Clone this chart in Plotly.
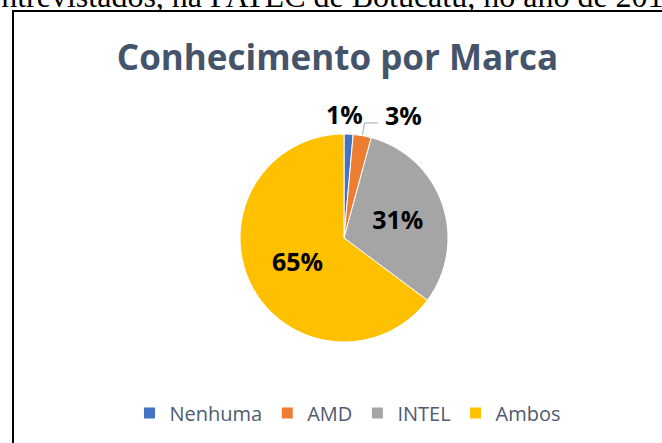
import math
import plotly.graph_objects as go

categories = ["Nenhuma", "AMD", "INTEL", "Ambos"]
counts = [1, 2, 22, 46]
colors = ["#4472C4", "#ED7D31", "#A5A5A5", "#FFC000"]
inside_labels = [False, False, True, True]
title_text = "Conhecimento por Marca"
caption_text = "entrevistados, na FATEC de Botucatu, no ano de 2018"

W, H = 662, 443
cx, cy, r = 344, 238, 104

total = sum(counts)
fracs = [c / total for c in counts]
pct_text = [f"{round(f * 100)}%" for f in fracs]

fig = go.Figure(go.Pie(
    labels=categories,
    values=counts,
    sort=False,
    direction="clockwise",
    rotation=0,
    marker=dict(colors=colors, line=dict(color="white", width=1)),
    text=[t if ins else "" for t, ins in zip(pct_text, inside_labels)],
    texttemplate="%{text}",
    textposition="inside",
    textfont=dict(family="Open Sans", size=25, color="black", weight="bold"),
    insidetextorientation="horizontal",
    hoverinfo="label+percent",
    domain=dict(x=[(cx - r) / W, (cx + r) / W], y=[1 - (cy + r) / H, 1 - (cy - r) / H]),
))

# outside labels for the small slices, placed from each slice's mid-angle
def pt(angle_deg, rho):
    a = math.radians(angle_deg)
    return cx + rho * math.sin(a), cy - rho * math.cos(a)

cum = 0.0
mids = []
for f in fracs:
    mids.append((cum + f / 2) * 360)
    cum += f

# Nenhuma: label just above its slice
lx, ly = pt(mids[0], r + 20)
fig.add_annotation(text=pct_text[0], xref="paper", yref="paper",
                   x=lx / W, y=1 - ly / H, xanchor="center", yanchor="middle",
                   xshift=-5, showarrow=False,
                   font=dict(family="Open Sans", size=25, color="black", weight="bold"))

# AMD: label to the right, with elbow leader line
ex, ey = pt(mids[1], r + 1)
lx2, ly2 = pt(mids[1], r + 20)
label_left = lx2 + 17
label_y = ly2 - 1
elbow_y = label_y + 8
fig.add_shape(type="path", xref="paper", yref="paper",
              path=(f"M {ex / W},{1 - ey / H} L {(ex + 2) / W},{1 - elbow_y / H} "
                    f"L {(label_left - 5) / W},{1 - elbow_y / H}"),
              line=dict(color="#A6A6A6", width=1))
fig.add_annotation(text=pct_text[1], xref="paper", yref="paper",
                   x=label_left / W, y=1 - label_y / H, xanchor="left", yanchor="middle",
                   showarrow=False,
                   font=dict(family="Open Sans", size=25, color="black", weight="bold"))

fig.add_shape(type="rect", xref="paper", yref="paper",
              x0=13 / W, x1=1.05, y0=-0.05, y1=1 - 11 / H,
              line=dict(color="black", width=2))

fig.add_annotation(text=caption_text, xref="paper", yref="paper",
                   x=-15 / W, y=1 - 16 / H, xanchor="left", yanchor="bottom",
                   showarrow=False,
                   font=dict(family="Liberation Serif", size=32, color="black"))

fig.update_layout(
    width=W, height=H,
    margin=dict(l=0, r=0, t=0, b=0, autoexpand=False),
    paper_bgcolor="white",
    plot_bgcolor="white",
    title=dict(text=title_text, x=337.5 / W, xanchor="center", y=1 - 58 / H, yanchor="middle",
               font=dict(family="Open Sans", size=35, color="#44546A", weight="bold")),
    showlegend=True,
    legend=dict(orientation="h", x=348 / W, xanchor="center", y=1 - 413 / H, yanchor="middle",
                font=dict(family="Open Sans", size=20, color="#4F5B6E"),
                traceorder="normal"),
)

fig.write_html("out.html", config={"displayModeBar": False},
               post_script="document.body.style.margin='0';document.body.style.overflow='hidden';")
